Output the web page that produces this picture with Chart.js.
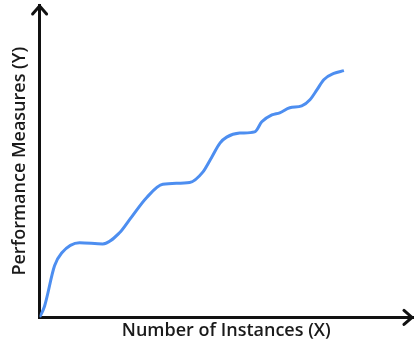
<!DOCTYPE html>
<html>
<head>
<meta charset="utf-8">
<script src="https://cdn.jsdelivr.net/npm/chart.js@4"></script>
<style>
  html, body { margin: 0; padding: 0; background: #fff; }
  #wrap { width: 414px; height: 345px; }
</style>
</head>
<body>
<div id="wrap"><canvas id="chart"></canvas></div>
<script>
// values (x: instances, y: performance, both 0-100)
const instances = [0, 1.3, 4.0, 5.9, 10.7, 16.9, 21.4, 24.1, 28.7, 33.0, 40.2, 43.7, 46.1, 48.3, 50.1, 53.6, 57.6, 59.5, 62.2, 64.3, 67.0, 70.2, 72.4, 74.3, 76.1, 78.8, 81.5];
const performance = [0, 3.5, 16.5, 20.6, 23.9, 23.5, 27.1, 31.3, 38.4, 42.6, 43.2, 46.5, 51.3, 55.8, 57.7, 59.0, 59.4, 62.6, 64.8, 65.5, 67.1, 67.7, 69.7, 72.9, 76.1, 78.1, 79.0];
const xTitle = 'Number of Instances (X)';
const yTitle = 'Performance Measures (Y)';

// open arrow heads at the ends of both axes
const arrowHeads = {
    id: 'arrowHeads',
    afterDraw(chart) {
        const { ctx, chartArea } = chart;
        ctx.save();
        ctx.strokeStyle = '#111';
        ctx.lineWidth = 3;
        ctx.lineCap = 'round';
        ctx.lineJoin = 'miter';
        ctx.beginPath();
        ctx.moveTo(chartArea.left - 7, chartArea.top + 9);
        ctx.lineTo(chartArea.left, chartArea.top + 1);
        ctx.lineTo(chartArea.left + 7, chartArea.top + 9);
        ctx.stroke();
        ctx.beginPath();
        ctx.moveTo(chartArea.right - 9, chartArea.bottom - 7);
        ctx.lineTo(chartArea.right - 1, chartArea.bottom);
        ctx.lineTo(chartArea.right - 9, chartArea.bottom + 7);
        ctx.stroke();
        ctx.restore();
    }
};

const titleFont = { family: 'Open Sans', size: 18, weight: '600' };

new Chart(document.getElementById('chart'), {
    type: 'scatter',
    data: {
        datasets: [{
            data: instances.map((x, i) => ({ x: x, y: performance[i] })),
            showLine: true,
            borderColor: '#4d8ef0',
            borderWidth: 3,
            pointRadius: 0,
            tension: 0.4,
            cubicInterpolationMode: 'monotone'
        }]
    },
    options: {
        responsive: true,
        maintainAspectRatio: false,
        animation: false,
        layout: { padding: { left: 9, right: 1, top: 5, bottom: 3 } },
        plugins: { legend: { display: false }, tooltip: { enabled: false } },
        scales: {
            x: {
                type: 'linear', min: 0, max: 100,
                grid: { display: false, drawTicks: false },
                border: { display: true, color: '#111', width: 3 },
                ticks: { display: false },
                title: { display: true, text: xTitle, color: '#1a1a1a', font: titleFont, padding: { top: 3, bottom: 0 } }
            },
            y: {
                min: 0, max: 100,
                grid: { display: false, drawTicks: false },
                border: { display: true, color: '#111', width: 3 },
                ticks: { display: false },
                title: { display: true, text: yTitle, color: '#1a1a1a', font: titleFont, padding: { top: 0, bottom: 9 } }
            }
        }
    },
    plugins: [arrowHeads]
});
</script>
</body>
</html>
